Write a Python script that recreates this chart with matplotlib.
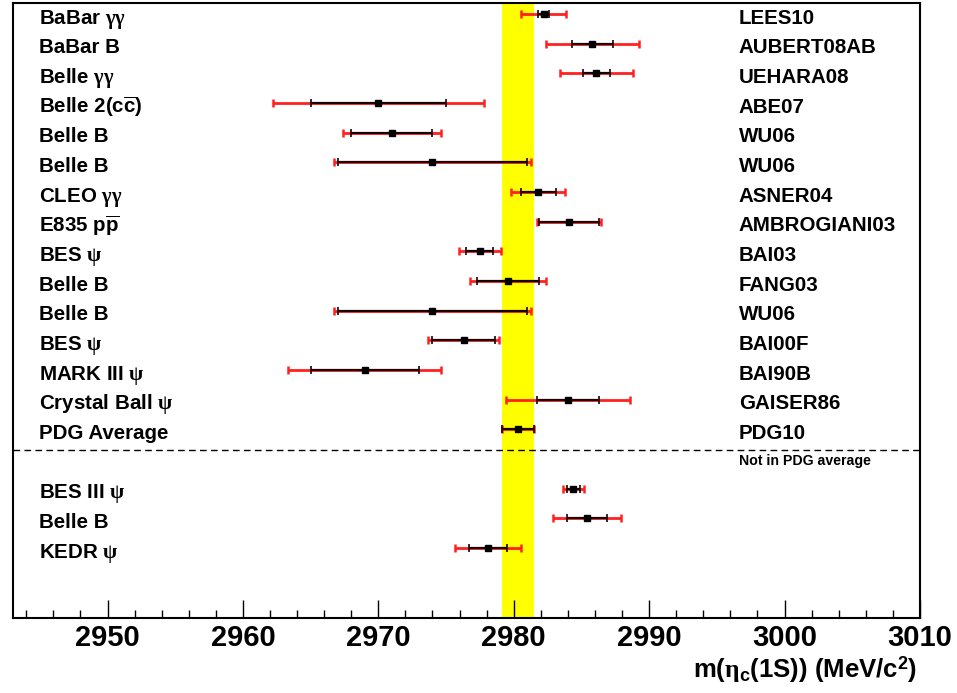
import matplotlib
matplotlib.use('Agg')
import matplotlib.pyplot as plt
import matplotlib.transforms as mtransforms

plt.rcParams['font.family'] = ['Liberation Sans', 'DejaVu Sans']
plt.rcParams['font.weight'] = 'bold'
plt.rcParams['mathtext.fontset'] = 'custom'
plt.rcParams['mathtext.rm'] = 'Liberation Sans:bold'
plt.rcParams['mathtext.bf'] = 'Liberation Sans:bold'
plt.rcParams['mathtext.it'] = 'Liberation Serif'

# measurements in the PDG average
exp_labels = ['BaBar $\\gamma\\gamma$', 'BaBar B', 'Belle $\\gamma\\gamma$',
              'Belle 2(c$\\overline{\\mathbf{c}}$)', 'Belle B', 'Belle B',
              'CLEO $\\gamma\\gamma$', 'E835 p$\\overline{\\mathbf{p}}$',
              'BES $\\psi$', 'Belle B', 'Belle B', 'BES $\\psi$',
              'MARK III $\\psi$', 'Crystal Ball $\\psi$', 'PDG Average']
ref_labels = ['LEES10', 'AUBERT08AB', 'UEHARA08', 'ABE07', 'WU06', 'WU06',
              'ASNER04', 'AMBROGIANI03', 'BAI03', 'FANG03', 'WU06', 'BAI00F',
              'BAI90B', 'GAISER86', 'PDG10']
mass = [2982.2, 2985.8, 2986.1, 2970.0, 2971.0, 2974.0, 2981.8, 2984.1,
        2977.5, 2979.6, 2974.0, 2976.3, 2969.0, 2984.0, 2980.3]
err_stat = [0.4, 1.5, 1.0, 5.0, 3.0, 7.0, 1.3, 2.2, 1.0, 2.3, 7.0, 2.3, 4.0, 2.3, 1.2]
err_tot = [1.65, 3.45, 2.7, 7.8, 3.6, 7.25, 2.0, 2.35, 1.56, 2.8, 7.25, 2.6, 5.66, 4.6, 1.2]

# not in PDG average
new_labels = ['BES III $\\psi$', 'Belle B', 'KEDR $\\psi$']
new_mass = [2984.4, 2985.4, 2978.1]
new_stat = [0.5, 1.5, 1.4]
new_tot = [0.79, 2.5, 2.44]

pdg_lo, pdg_hi = 2979.1, 2981.5

fig = plt.figure(figsize=(9.57, 6.93), dpi=100)
ax = fig.add_axes([0.0133, 0.1082, 0.948, 0.887])

rows = list(range(len(mass)))
new_rows = [len(mass) + 1 + i for i in range(len(new_mass))]
all_rows = rows + new_rows
all_mass = mass + new_mass
all_stat = err_stat + new_stat
all_tot = err_tot + new_tot

ax.axvspan(pdg_lo, pdg_hi, color='#ffff00', zorder=1, lw=0)
ax.errorbar(all_mass, all_rows, xerr=all_tot, fmt='none', ecolor='#ff2020',
            elinewidth=2, capsize=3, capthick=1.8, zorder=2)
ax.errorbar(all_mass, all_rows, xerr=all_stat, fmt='none', ecolor='#1a0000',
            elinewidth=1.6, capsize=3, capthick=1.2, zorder=3)
ax.plot(all_mass, all_rows, 's', color='k', ms=5, zorder=4)

ax.axhline(len(mass) - 0.3, color='k', lw=1, ls=(0, (4.8, 3.1)), zorder=2)

trans = mtransforms.blended_transform_factory(ax.transAxes, ax.transData)
for r, lab in zip(all_rows, exp_labels + new_labels):
    ax.text(0.0295, r + 0.33, lab, transform=trans, fontsize=14.8,
            fontweight='bold', va='baseline', ha='left')
for r, lab in zip(rows, ref_labels):
    ax.text(0.8005, r + 0.33, lab, transform=trans, fontsize=14.8,
            fontweight='bold', va='baseline', ha='left')
ax.text(0.8005, len(mass) + 0.2, 'Not in PDG average', transform=trans,
        fontsize=10.2, fontweight='bold', va='baseline', ha='left')

ax.set_xlim(2943, 3010)
ax.set_ylim(20.36, -0.36)
ax.set_xticks(range(2950, 3011, 10))
ax.set_xticks(range(2944, 3011, 2), minor=True)
ax.set_yticks([])
ax.tick_params(axis='x', which='major', direction='in', length=12.7, width=1,
               labelsize=21, pad=4, top=False)
ax.tick_params(axis='x', which='minor', direction='in', length=5.5, width=1, top=False)
for s in ax.spines.values():
    s.set_linewidth(1.5)

fig.text(917 / 957, 15 / 693, 'm($\\eta_{\\mathbf{c}}$(1S)) (MeV/c$^{\\mathbf{2}}$)',
         fontsize=18.5, fontweight='bold', ha='right', va='baseline')

fig.savefig('out.png', dpi=100)
